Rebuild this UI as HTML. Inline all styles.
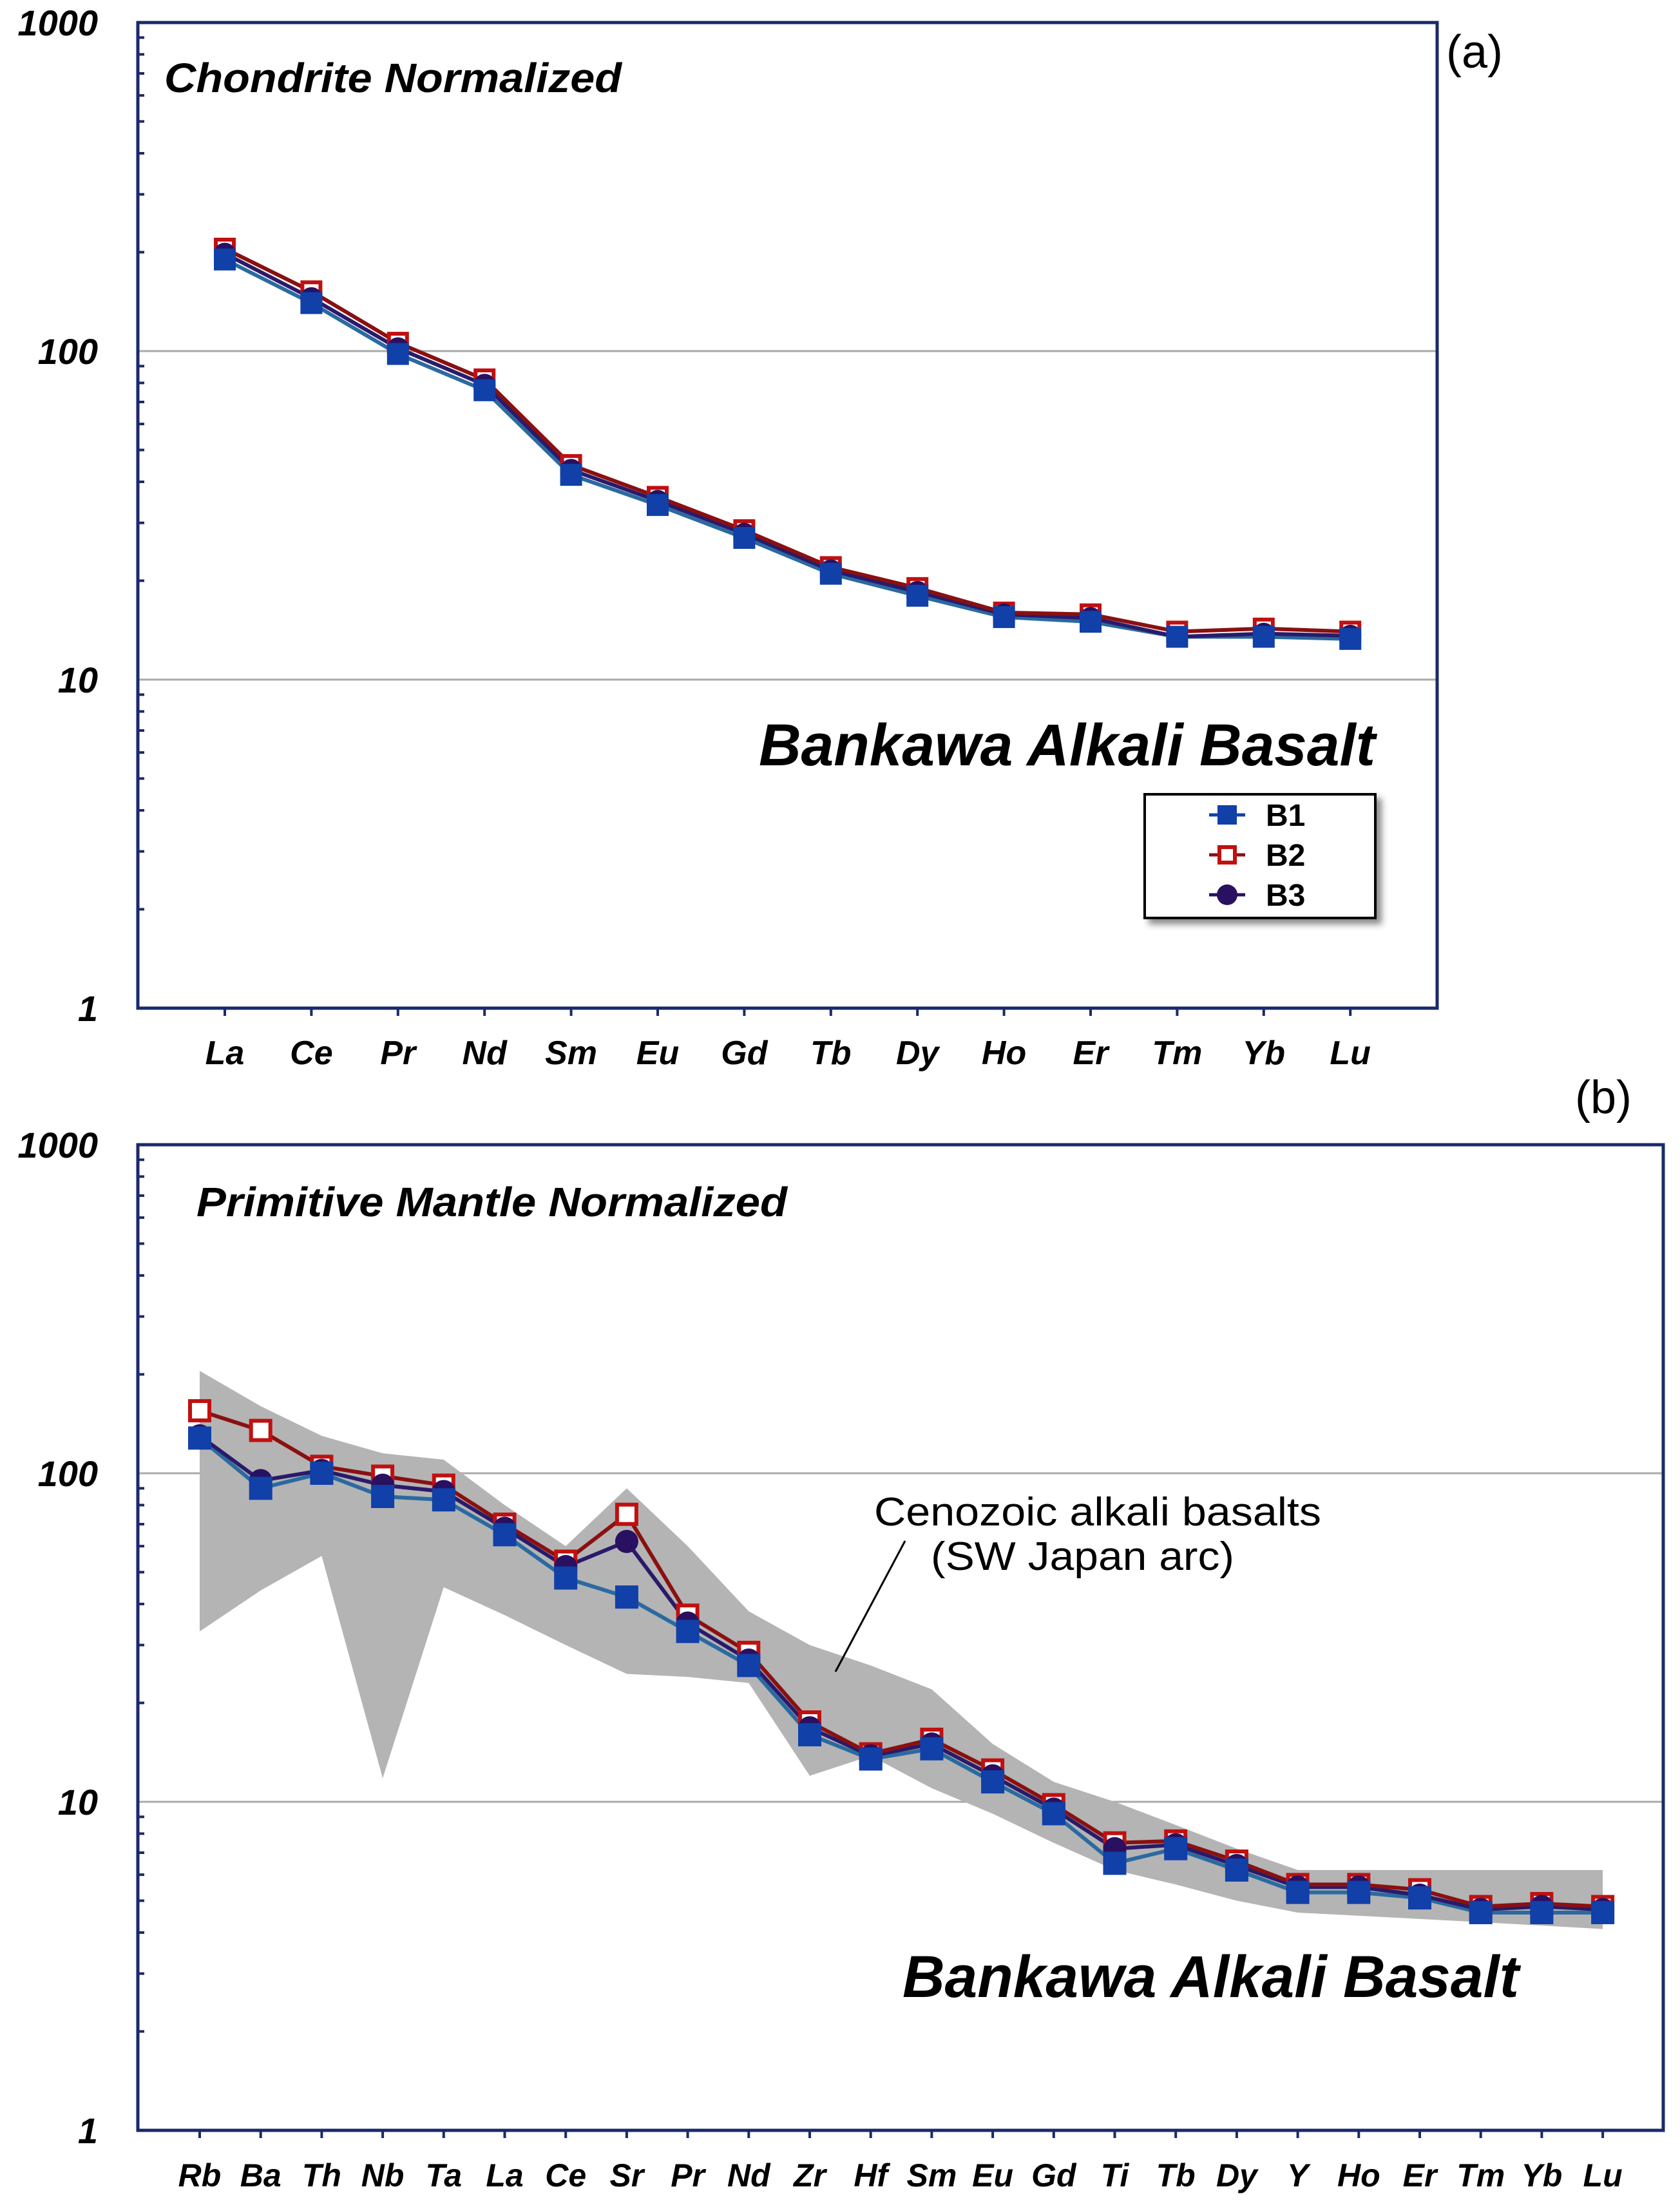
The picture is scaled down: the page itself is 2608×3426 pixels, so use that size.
<!DOCTYPE html>
<html><head><meta charset="utf-8"><style>
html,body{margin:0;padding:0;background:#fff}
svg{display:block}
text{font-family:"Liberation Sans",sans-serif}
.bi{font-weight:bold;font-style:italic}
</style></head><body>
<svg id="chart" xmlns="http://www.w3.org/2000/svg" width="2608" height="3426" viewBox="0 0 2608 3426">
<defs>
<filter id="sh" x="-10%" y="-10%" width="130%" height="130%"><feDropShadow dx="8" dy="8" stdDeviation="5" flood-color="#000" flood-opacity="0.45"/></filter>
</defs>
</svg>
<script>
// ---- data panel (a) ----
const catsA = ["La","Ce","Pr","Nd","Sm","Eu","Gd","Tb","Dy","Ho","Er","Tm","Yb","Lu"];
const b1A = [190,140,98,76,42,34,27,21,18,15.5,15,13.5,13.5,13.3];
const b2A = [205,152,106,82,45,36,28.5,22,19,16,15.8,14,14.3,14];
const b3A = [198,145,102,79,43.5,35,27.8,21.5,18.5,15.8,15.4,13.5,13.8,13.6];
// ---- data panel (b) ----
const catsB = ["Rb","Ba","Th","Nb","Ta","La","Ce","Sr","Pr","Nd","Zr","Hf","Sm","Eu","Gd","Ti","Tb","Dy","Y","Ho","Er","Tm","Yb","Lu"];
const b1B = [128,90,100,85,83,65,48,42,33,26,16,13.5,14.5,11.5,9.2,6.5,7.2,6.2,5.3,5.3,5.1,4.6,4.6,4.6];
const b2B = [155,135,105,98,92,70,54,75,37,28.5,17.5,14,15.5,12.5,9.8,7.5,7.6,6.6,5.6,5.6,5.4,4.8,4.9,4.8];
const b3B = [130,95,102,92,88,68,52,62,35,27,16.8,13.8,15,12,9.5,7.2,7.4,6.4,5.5,5.5,5.2,4.7,4.8,4.7];
const bandUpper = [205,160,130,115,110,80,60,90,60,38,30,26,22,15,11.5,10,8.5,7.2,6.2,6.2,6.2,6.2,6.2,6.2];
const bandLower = [33,44,56,11.8,45,37,30,24.5,24,23,12,13.8,11,9.2,7.5,6.2,5.6,5,4.6,4.5,4.4,4.3,4.2,4.1];
const yTicks = [1,10,100,1000];
const yTickLabels = ["1","10","100","1000"];

const NS="http://www.w3.org/2000/svg";
const svg=document.getElementById('chart');
function mk(tag,attrs,parent){const e=document.createElementNS(NS,tag);for(const k in attrs)e.setAttribute(k,attrs[k]);(parent||svg).appendChild(e);return e;}

function panel(cfg){
  const g=mk('g',{});
  
  
  const {left,right,top,bottom,firstX,stepX}=cfg;
  const dec=(bottom-top)/3;
  const y=v=>bottom-Math.log10(v)*dec;
  const x=i=>firstX+i*stepX;
  [10,100].forEach(v=>{
    const l=mk('line',{x1:left,x2:right,y1:y(v),y2:y(v),stroke:'#aaa','stroke-width':3},g);
    
    
  });
  if(cfg.band){
    let pts=cfg.band.upper.map((v,i)=>x(i)+','+y(v));
    pts=pts.concat(cfg.band.lower.map((v,i)=>x(i)+','+y(v)).reverse());
    const p=mk('polygon',{points:pts.join(' '),fill:'#b4b4b4'},g);
    
    
  }
  const fr=mk('rect',{x:left,y:top,width:right-left,height:bottom-top,fill:'none',stroke:'#1a2a6a','stroke-width':5},g);
  
  
  for(let d=0;d<3;d++)for(let m=2;m<=9;m++){
    const yy=y(Math.pow(10,d)*m);
    mk('line',{x1:left,x2:left+10,y1:yy,y2:yy,stroke:'#1a2a6a','stroke-width':4},g);
  }
  yTicks.forEach((v,i)=>{
    const t=mk('text',{x:left-62,y:y(v)+20,'text-anchor':'end','font-size':56,class:'bi'},g);
    t.textContent=yTickLabels[i];
    
    
  });
  cfg.cats.forEach((c,i)=>{
    mk('line',{x1:x(i),x2:x(i),y1:bottom,y2:bottom+12,stroke:'#1a2a6a','stroke-width':4},g);
    const t=mk('text',{x:x(i),y:cfg.labelY,'text-anchor':'middle','font-size':cfg.labelSize,class:'bi'},g);
    t.textContent=c;
    
    
  });
  const series=[
    {d:cfg.b1,color:'#2a6aa0',name:'series-b1',mark:'sq'},
    {d:cfg.b3,color:'#2a1a6a',name:'series-b3',mark:'ci'},
    {d:cfg.b2,color:'#8a1010',name:'series-b2',mark:'os'}
  ];
  series.forEach(s=>{
    const pl=mk('polyline',{points:s.d.map((v,i)=>x(i)+','+y(v)).join(' '),fill:'none',stroke:s.color,'stroke-width':6},g);
    
    
  });
  const ms=cfg.ms;
  [series[2],series[1],series[0]].forEach(s=>{
    s.d.forEach((v,i)=>{
      let e;
      if(s.mark==='sq')e=mk('rect',{x:x(i)-ms/2,y:y(v)-ms/2,width:ms,height:ms,fill:'#1040a8'},g);
      else if(s.mark==='ci')e=mk('circle',{cx:x(i),cy:y(v),r:ms/2,fill:'#2a1060'},g);
      else e=mk('rect',{x:x(i)-ms/2+3,y:y(v)-ms/2+3,width:ms-6,height:ms-6,fill:'#fff',stroke:'#c01010','stroke-width':6},g);
      
      
    });
  });
  return {x,y,g};
}

panel({name:'panel-a',left:214,right:2231,top:35,bottom:1565,firstX:349,stepX:134.4,cats:catsA,b1:b1A,b2:b2A,b3:b3A,labelY:1652,labelSize:52,ms:34});
panel({name:'panel-b',left:214,right:2582,top:1777,bottom:3307,firstX:310,stepX:94.7,cats:catsB,b1:b1B,b2:b2B,b3:b3B,labelY:3394,labelSize:50,ms:36,band:{upper:bandUpper,lower:bandLower}});

function txt(x,y,s,size,cls,name,len){
  const t=mk('text',{x:x,y:y,'font-size':size});
  if(cls)t.setAttribute('class',cls);
  if(len){t.setAttribute('textLength',len);t.setAttribute('lengthAdjust','spacingAndGlyphs');}
  t.textContent=s;
  
  
  return t;
}
txt(255,143,'Chondrite Normalized',64,'bi','panel-a-title',710);
txt(1178,1188,'Bankawa Alkali Basalt',92,'bi','panel-a-sample-label',957);
txt(2245,105,'(a)',72,'','panel-a-letter');
txt(2445,1728,'(b)',72,'','panel-b-letter');
txt(305,1888,'Primitive Mantle Normalized',64,'bi','panel-b-title',917);
txt(1401,3100,'Bankawa Alkali Basalt',92,'bi','panel-b-sample-label',957);
txt(1357,2368,'Cenozoic alkali basalts',62,'','field-label-line1',694);
txt(1445,2437,'(SW Japan arc)',62,'','field-label-line2',471);
const ll=mk('line',{x1:1405,y1:2392,x2:1297,y2:2595,stroke:'#000','stroke-width':3});



const lg=mk('g',{});


mk('rect',{x:1777,y:1233,width:358,height:192,fill:'#fff',stroke:'#000','stroke-width':4,filter:'url(#sh)'},lg);
const legItems=[['B1','sq'],['B2','os'],['B3','ci']];
legItems.forEach((it,i)=>{
  const cy=1265+i*62;
  const cx=1905;
  let col=it[1]==='sq'?'#1040a8':(it[1]==='os'?'#8a1010':'#2a1060');
  mk('line',{x1:cx-28,x2:cx+28,y1:cy,y2:cy,stroke:col,'stroke-width':5},lg);
  let e;
  if(it[1]==='sq')e=mk('rect',{x:cx-15,y:cy-15,width:30,height:30,fill:'#1040a8'},lg);
  else if(it[1]==='ci')e=mk('circle',{cx:cx,cy:cy,r:16,fill:'#2a1060'},lg);
  else e=mk('rect',{x:cx-12,y:cy-12,width:24,height:24,fill:'#fff',stroke:'#c01010','stroke-width':6},lg);
  
  
  const t=mk('text',{x:1965,y:cy+17,'font-size':48,'font-weight':'bold'},lg);
  t.textContent=it[0];
  
  
});
</script>
</body></html>
